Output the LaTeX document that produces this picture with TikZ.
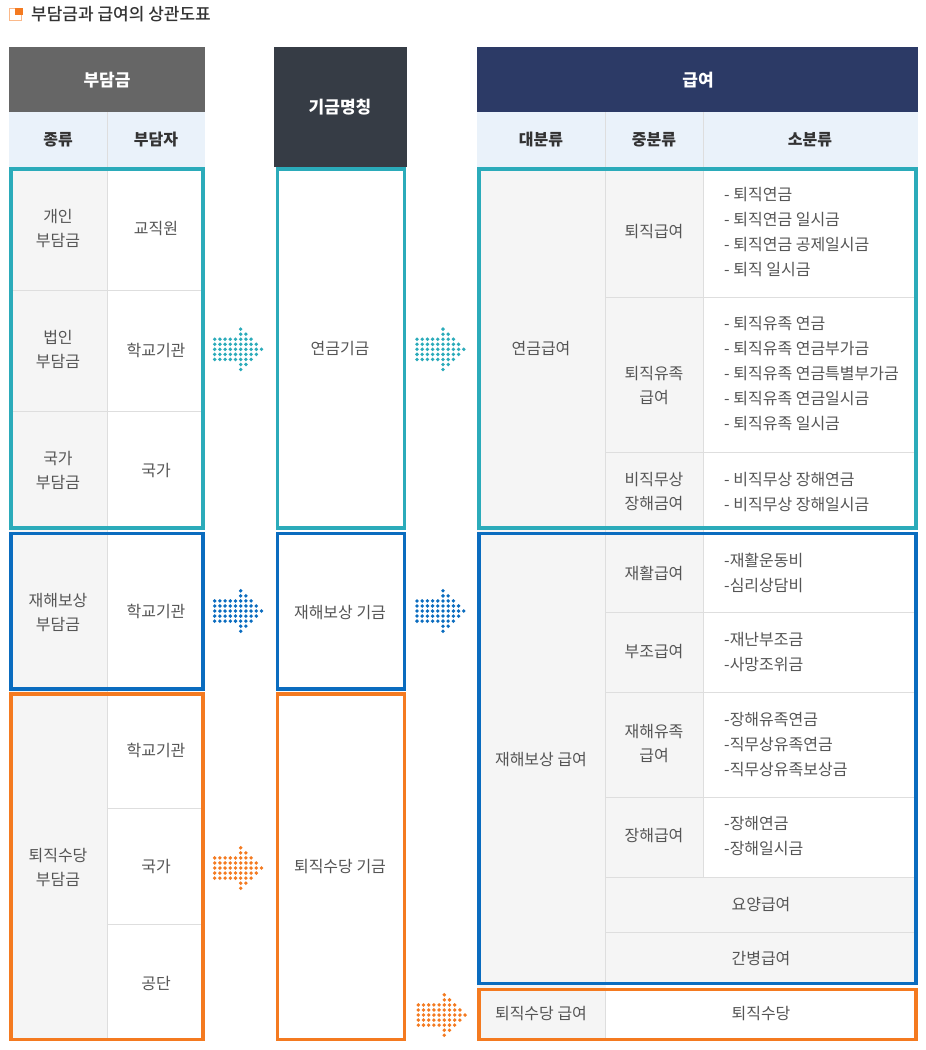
\documentclass[tikz,border=0pt]{standalone}
\usepackage{fontspec}
\setmainfont{Noto Sans CJK KR}
\newfontfamily\medfont{Noto Sans CJK KR}[UprightFont=* Medium]
\definecolor{tealc}{HTML}{2BABBA}
\definecolor{bluec}{HTML}{0A6CBF}
\definecolor{orangec}{HTML}{F47A20}
\definecolor{hdrgray}{HTML}{666666}
\definecolor{hdrmid}{HTML}{363C45}
\definecolor{hdrnavy}{HTML}{2C3A66}
\definecolor{subc}{HTML}{EAF2FA}
\definecolor{cellc}{HTML}{F5F5F5}
\definecolor{gridc}{HTML}{DEDEDE}
\definecolor{txtc}{HTML}{555555}
\definecolor{darkc}{HTML}{333333}
\definecolor{iconlight}{HTML}{FBB98A}
\newcommand{\dotarrow}[3]{%
  \foreach \r/\a/\b in {-4/5/5,-3/5/6,-2/0/7,-1/0/8,0/0/9,1/0/8,2/0/7,3/5/6,4/5/5} {
    \foreach \c in {\a,...,\b} {
      \fill[#3] ({#1+\c*5.2},{#2+\r*5.05}) circle[radius=1.9pt];
    }
  }%
}
\tikzset{
  txt/.style={text=txtc, font=\fontsize{16}{24}\selectfont, align=center, inner sep=0pt},
  lst/.style={text=txtc, font=\fontsize{16}{25}\selectfont, align=left, anchor=west, inner sep=0pt},
  hdr/.style={text=white, font=\fontsize{17}{20}\selectfont\bfseries, inner sep=0pt},
  subh/.style={text=darkc, font=\fontsize{16}{18}\selectfont\bfseries, inner sep=0pt},
  gridl/.style={draw=gridc, line width=1pt},
  tealbox/.style={draw=tealc, line width=3.5pt},
  bluebox/.style={draw=bluec, line width=3.5pt},
  orangebox/.style={draw=orangec, line width=3.5pt},
}
\begin{document}
\begin{tikzpicture}[x=1pt,y=-1pt]
\useasboundingbox[fill=white] (0,0) rectangle (926,1050);
% title
\draw[iconlight, line width=1.6pt] (9.5,8.5) rectangle (21.5,20.5);
\fill[orangec] (15,7.5) rectangle (22.5,14.5);
\node[anchor=west, inner sep=0pt, text=darkc, font=\fontsize{17}{20}\selectfont\medfont] (title) at (31,14.5) {부담금과 급여의 상관도표};

% ---------- headers ----------
\fill[hdrgray] (9,47) rectangle (205,112);
\fill[subc] (9,112) rectangle (205,167);
\draw[gridl] (107.5,112) -- (107.5,167);
\node[hdr] (h1) at (107,80) {부담금};
\node[subh] (s1) at (58,139.5) {종류};
\node[subh] (s2) at (156,139.5) {부담자};

\fill[hdrmid] (274,47) rectangle (406.5,167);
\node[hdr] (h2) at (340,107) {기금명칭};

\fill[hdrnavy] (477,47) rectangle (918,112);
\fill[subc] (477,112) rectangle (918,167);
\draw[gridl] (605.5,112) -- (605.5,167);
\draw[gridl] (703.5,112) -- (703.5,167);
\node[hdr] (h3) at (698,80) {급여};
\node[subh] (s3) at (541,139.5) {대분류};
\node[subh] (s4) at (654,139.5) {중분류};
\node[subh] (s5) at (810,139.5) {소분류};

% ---------- fills ----------
\fill[cellc] (9,167) rectangle (107.5,1041);
\fill[cellc] (477,167) rectangle (605.5,1041);
\fill[cellc] (605.5,167) rectangle (703.5,877);
\fill[cellc] (605.5,877) rectangle (918,985);

% ---------- grid lines ----------
\draw[gridl] (107.5,167) -- (107.5,1041);
\draw[gridl] (11,290) -- (203,290);
\draw[gridl] (11,411) -- (203,411);
\draw[gridl] (107.5,808) -- (203,808);
\draw[gridl] (107.5,924) -- (203,924);

\draw[gridl] (605.5,167) -- (605.5,985);
\draw[gridl] (605.5,988) -- (605.5,1041);
\draw[gridl] (703.5,167) -- (703.5,877);
\draw[gridl] (605.5,297) -- (916,297);
\draw[gridl] (605.5,452) -- (916,452);
\draw[gridl] (605.5,612) -- (916,612);
\draw[gridl] (605.5,692) -- (916,692);
\draw[gridl] (605.5,797) -- (916,797);
\draw[gridl] (605.5,877) -- (916,877);
\draw[gridl] (605.5,932) -- (916,932);

% ---------- coloured boxes ----------
\draw[tealbox] (11,169) rectangle (203,528);
\draw[bluebox] (11,533.5) rectangle (203,689);
\draw[orangebox] (11,694) rectangle (203,1039.5);

\draw[tealbox] (277.5,169) rectangle (404.5,528);
\draw[bluebox] (277.5,533.5) rectangle (404.5,689);
\draw[orangebox] (277.5,694) rectangle (404.5,1039.5);

\draw[tealbox] (479,169) rectangle (916,528);
\draw[bluebox] (479,533.5) rectangle (916,983.5);
\draw[orangebox] (479,989.5) rectangle (916,1039.5);

% ---------- arrows ----------
\dotarrow{214.7}{349.3}{tealc}
\dotarrow{417}{349.3}{tealc}
\dotarrow{214.7}{611}{bluec}
\dotarrow{417}{611}{bluec}
\dotarrow{214.7}{868}{orangec}
\dotarrow{418.3}{1015}{orangec}

% ---------- left texts ----------
\node[txt] (a1) at (58,229) {개인\\부담금};
\node[txt] (b1) at (156,229) {교직원};
\node[txt] (a2) at (58,350) {법인\\부담금};
\node[txt] (b2) at (156,350) {학교기관};
\node[txt] (a3) at (58,471) {국가\\부담금};
\node[txt] (b3) at (156,471) {국가};
\node[txt] (a4) at (58,612) {재해보상\\부담금};
\node[txt] (b4) at (156,611) {학교기관};
\node[txt] (a5) at (58,867) {퇴직수당\\부담금};
\node[txt] (b5) at (156,750) {학교기관};
\node[txt] (b6) at (156,866) {국가};
\node[txt] (b7) at (156,983) {공단};

% ---------- middle texts ----------
\node[txt] (f1) at (340,349) {연금기금};
\node[txt] (f2) at (340,612) {재해보상 기금};
\node[txt] (f3) at (340,867) {퇴직수당 기금};

% ---------- right texts ----------
\node[txt] (g1) at (541,349) {연금급여};
\node[txt] (m1) at (654,232) {퇴직급여};
\node[lst] (l1) at (724,232.5) {- 퇴직연금\\- 퇴직연금 일시금\\- 퇴직연금 공제일시금\\- 퇴직 일시금};
\node[txt] (m2) at (654,386) {퇴직유족\\급여};
\node[lst] (l2) at (724,374) {- 퇴직유족 연금\\- 퇴직유족 연금부가금\\- 퇴직유족 연금특별부가금\\- 퇴직유족 연금일시금\\- 퇴직유족 일시금};
\node[txt] (m3) at (654,492) {비직무상\\장해금여};
\node[lst] (l3) at (724,492.5) {- 비직무상 장해연금\\- 비직무상 장해일시금};

\node[txt] (g2) at (541,760) {재해보상 급여};
\node[txt] (m4) at (654,573) {재활급여};
\node[lst] (l4) at (724,572.5) {-재활운동비\\-심리상담비};
\node[txt] (m5) at (654,652) {부조급여};
\node[lst] (l5) at (724,651.5) {-재난부조금\\-사망조위금};
\node[txt] (m6) at (654,744) {재해유족\\급여};
\node[lst] (l6) at (724,744) {-장해유족연금\\-직무상유족연금\\-직무상유족보상금};
\node[txt] (m7) at (654,836) {장해급여};
\node[lst] (l7) at (724,836.5) {-장해연금\\-장해일시금};
\node[txt] (m8) at (761,905) {요양급여};
\node[txt] (m9) at (761,959) {간병급여};

\node[txt] (g3) at (541,1014) {퇴직수당 급여};
\node[txt] (m10) at (761,1014) {퇴직수당};
\end{tikzpicture}
\end{document}
